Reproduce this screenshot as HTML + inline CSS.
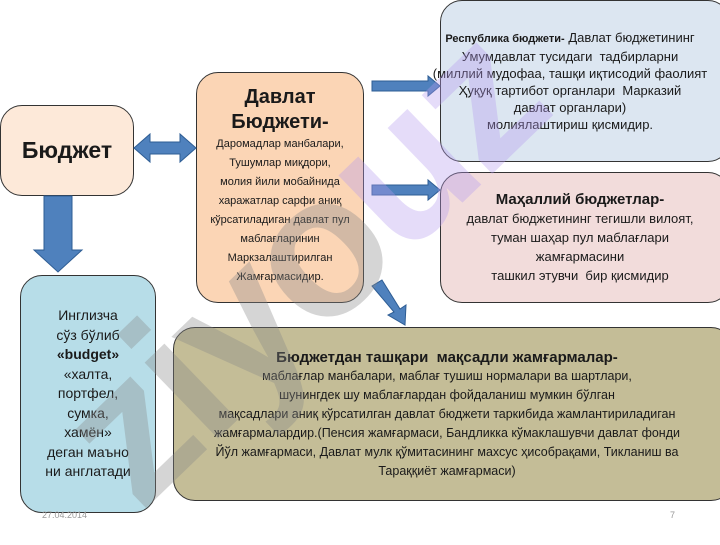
<!DOCTYPE html>
<html><head><meta charset="utf-8"><style>
body{margin:0;width:720px;height:540px;background:#fff;position:relative;overflow:hidden;font-family:"Liberation Sans","DejaVu Sans",sans-serif;color:#1a1a1a}
.b{position:absolute;border:1.5px solid #333;border-radius:22px;box-sizing:border-box;text-align:center;display:flex;flex-direction:column;justify-content:center}
.wm{position:absolute;left:300px;top:265px;font:bold 200px "Liberation Sans",sans-serif;transform:translate(-50%,-50%) rotate(-44deg);opacity:.35;letter-spacing:-6px;white-space:nowrap;line-height:1}
</style></head><body>
<div class="b" style="left:0;top:105px;width:134px;height:91px;background:#fde9d9;font-weight:bold;font-size:23px">Бюджет</div>
<div class="b" style="left:196px;top:72px;width:168px;height:231px;background:#fbd5b5;font-size:11px;line-height:19px;justify-content:flex-start;padding-top:12px">
<div style="font-weight:bold;font-size:20px;line-height:25px">Давлат<br>Бюджети-</div>
<div>Даромадлар манбалари,<br>Тушумлар миқдори,<br>молия йили мобайнида<br>харажатлар сарфи аниқ<br>кўрсатиладиган давлат пул<br>маблағларинин<br>Маркзалаштирилган<br>Жамғармасидир.</div></div>
<div class="b" style="left:440px;top:0;width:290px;height:162px;background:#dce6f1;font-size:13px;line-height:17px;padding-right:10px;align-items:center">
<div style="white-space:nowrap;margin-left:-20px"><b style="font-size:11px">Республика бюджети-</b> Давлат бюджетининг<br>Умумдавлат тусидаги &nbsp;тадбирларни<br>(миллий мудофаа, ташқи иқтисодий фаолият<br>Ҳуқуқ тартибот органлари &nbsp;Марказий<br>давлат органлари)<br>молиялаштириш қисмидир.</div></div>
<div class="b" style="left:440px;top:172px;width:290px;height:131px;background:#f2dcdb;font-size:13px;line-height:19px;padding-right:10px">
<div style="font-weight:bold;font-size:15px">Маҳаллий бюджетлар-</div>
<div>давлат бюджетининг тегишли вилоят,<br>туман шаҳар пул маблағлари<br>жамғармасини<br>ташкил этувчи &nbsp;бир қисмидир</div></div>
<div class="b" style="left:20px;top:275px;width:136px;height:238px;background:#b7dde8;font-size:14px;line-height:19.5px"><div>Инглизча<br>сўз бўлиб<br><b>«budget»</b><br>«халта,<br>портфел,<br>сумка,<br>хамён»<br>деган маъно<br>ни англатади</div></div>
<div class="b" style="left:173px;top:327px;width:560px;height:174px;background:#c4bd97;font-size:12.5px;line-height:19px;padding-right:12px">
<div style="font-weight:bold;font-size:15px">Бюджетдан ташқари &nbsp;мақсадли жамғармалар-</div>
<div style="white-space:nowrap">маблағлар манбалари, маблағ тушиш нормалари ва шартлари,<br>шунингдек шу маблағлардан фойдаланиш мумкин бўлган<br>мақсадлари аниқ кўрсатилган давлат бюджети таркибида жамлантириладиган<br>жамғармалардир.(Пенсия жамғармаси, Бандликка кўмаклашувчи давлат фонди<br>Йўл жамғармаси, Давлат мулк қўмитасининг махсус ҳисобрақами, Тикланиш ва<br>Тараққиёт жамғармаси)</div></div>
<svg width="720" height="540" style="position:absolute;left:0;top:0">
<g fill="#4f81bd" stroke="#2e5d94" stroke-width="1">
<polygon points="134,148 150,134 150,142 180,142 180,134 196,148 180,162 180,154 150,154 150,162"/>
<polygon points="44,196 72,196 72,250 82,250 58,272 34,250 44,250"/>
<polygon points="372,81 428,81 428,76 440,86 428,96 428,91 372,91"/>
<polygon points="372,185 428,185 428,180 440,190 428,200 428,195 372,195"/>
<polygon points="372,286 382,280 400,309 406,305 405,325 388,315 394,312"/>
</g></svg>
<div class="wm"><span style="color:#888">ziyo</span><span style="color:#b69cf0">uz</span></div>
<div style="position:absolute;left:42px;top:510px;font-size:9px;color:#999">27.04.2014</div>
<div style="position:absolute;left:670px;top:510px;font-size:9px;color:#999">7</div>
</body></html>
